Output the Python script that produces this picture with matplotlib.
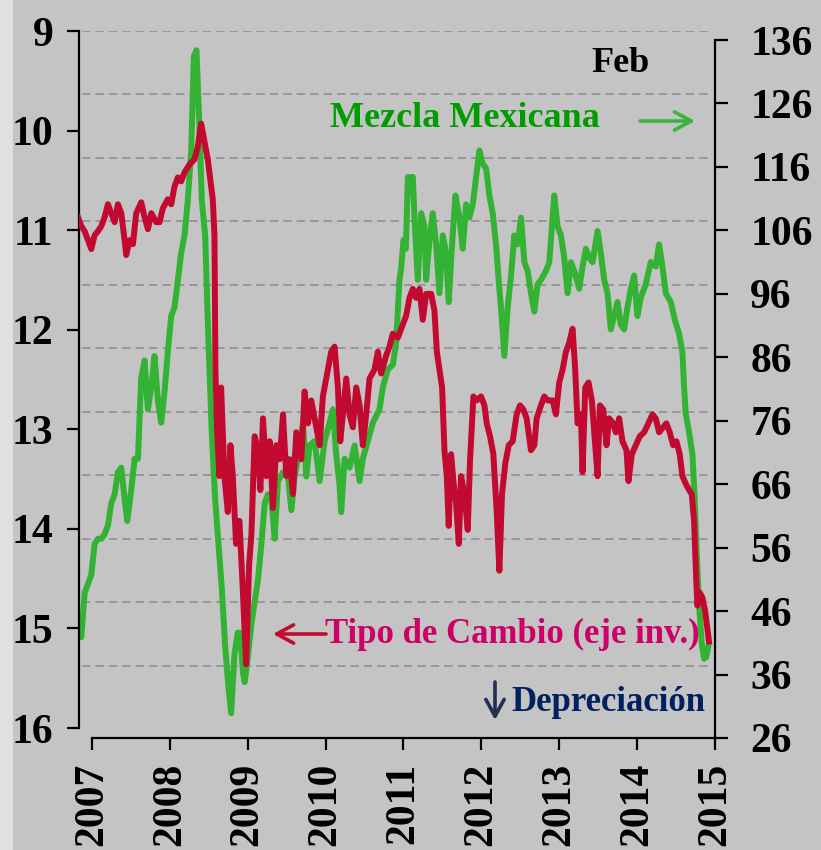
from __future__ import annotations

import matplotlib

matplotlib.use("Agg")
import matplotlib.pyplot as plt
import numpy as np
from matplotlib.patches import Rectangle

OUT_PATH = "out.png"

# Mezcla Mexicana (USD/barril), eje derecho
mezcla_t = [
    2006.842, 2006.863, 2006.906, 2006.949, 2006.991, 2007.034, 2007.077, 2007.120,
    2007.162, 2007.205, 2007.248, 2007.291, 2007.333, 2007.376, 2007.419, 2007.453,
    2007.504, 2007.547, 2007.590, 2007.611, 2007.632, 2007.675, 2007.718, 2007.761,
    2007.803, 2007.846, 2007.889, 2007.932, 2007.974, 2008.017, 2008.060, 2008.103,
    2008.145, 2008.188, 2008.231, 2008.274, 2008.308, 2008.342, 2008.380, 2008.410,
    2008.453, 2008.496, 2008.538, 2008.581, 2008.624, 2008.667, 2008.710, 2008.752,
    2008.787, 2008.829, 2008.872, 2008.900, 2008.940, 2008.961, 2009.004, 2009.047,
    2009.089, 2009.132, 2009.175, 2009.218, 2009.260, 2009.303, 2009.346, 2009.388,
    2009.453, 2009.517, 2009.560, 2009.602, 2009.666, 2009.709, 2009.752, 2009.794,
    2009.858, 2009.923, 2009.987, 2010.051, 2010.094, 2010.136, 2010.179, 2010.200,
    2010.243, 2010.307, 2010.372, 2010.436, 2010.478, 2010.542, 2010.607, 2010.692,
    2010.735, 2010.799, 2010.863, 2010.906, 2010.948, 2010.970, 2011.000, 2011.030,
    2011.056, 2011.077, 2011.120, 2011.141, 2011.184, 2011.227, 2011.269, 2011.291,
    2011.334, 2011.376, 2011.419, 2011.462, 2011.505, 2011.547, 2011.581, 2011.624,
    2011.667, 2011.718, 2011.761, 2011.804, 2011.846, 2011.889, 2011.940, 2011.975,
    2012.017, 2012.060, 2012.103, 2012.146, 2012.188, 2012.231, 2012.252, 2012.295,
    2012.338, 2012.381, 2012.423, 2012.466, 2012.509, 2012.552, 2012.594, 2012.637,
    2012.680, 2012.722, 2012.765, 2012.829, 2012.872, 2012.936, 2012.979, 2013.022,
    2013.064, 2013.107, 2013.150, 2013.193, 2013.257, 2013.299, 2013.342, 2013.385,
    2013.428, 2013.492, 2013.534, 2013.577, 2013.620, 2013.662, 2013.705, 2013.748,
    2013.791, 2013.833, 2013.876, 2013.919, 2013.962, 2014.004, 2014.047, 2014.111,
    2014.175, 2014.239, 2014.282, 2014.325, 2014.368, 2014.432, 2014.487, 2014.539,
    2014.581, 2014.603, 2014.624, 2014.667, 2014.710, 2014.740, 2014.765, 2014.795,
    2014.829, 2014.859, 2014.889, 2014.915,
]
mezcla_usd = [
    44.0, 41.9, 48.9, 50.3, 51.7, 56.6, 57.4, 57.4,
    58.1, 59.5, 63.0, 64.4, 67.9, 68.6, 63.7, 60.2,
    65.1, 70.0, 70.0, 76.4, 82.7, 85.5, 77.8, 81.3,
    86.2, 79.2, 75.7, 80.6, 86.9, 92.5, 93.9, 98.2,
    102.4, 105.2, 110.8, 118.6, 133.4, 134.4, 122.1, 110.8,
    105.2, 88.3, 74.2, 63.7, 56.6, 49.6, 40.5, 34.1,
    29.9, 39.1, 42.6, 42.6, 36.2, 34.8, 39.1, 44.0,
    47.5, 51.0, 56.6, 63.0, 64.4, 63.7, 57.4, 66.5,
    67.9, 67.2, 61.9, 67.2, 71.4, 75.7, 67.2, 72.1,
    72.8, 66.5, 72.8, 75.7, 77.8, 70.7, 65.8, 61.6,
    70.0, 68.6, 72.1, 66.5, 70.0, 72.8, 75.7, 77.8,
    81.3, 84.1, 84.8, 88.3, 98.2, 100.0, 104.5, 103.1,
    114.4, 114.4, 114.4, 108.0, 98.2, 108.7, 106.6, 98.2,
    104.5, 108.7, 103.8, 96.1, 105.2, 102.4, 94.7, 103.8,
    111.5, 108.0, 103.1, 110.1, 108.0, 110.1, 115.1, 118.6,
    116.5, 115.8, 111.5, 108.7, 103.8, 96.8, 93.9, 86.2,
    93.9, 98.9, 105.2, 103.8, 108.0, 101.0, 99.6, 96.1,
    93.2, 97.5, 98.2, 99.6, 101.0, 111.5, 106.6, 105.2,
    101.7, 96.1, 101.0, 99.6, 96.8, 100.3, 103.1, 101.7,
    101.0, 105.9, 102.4, 98.2, 96.1, 90.4, 92.5, 94.7,
    91.1, 90.4, 93.9, 96.8, 98.9, 92.5, 95.4, 97.5,
    101.0, 100.3, 103.8, 100.3, 96.1, 94.7, 91.8, 89.7,
    86.9, 81.3, 77.1, 74.2, 70.7, 63.7, 55.0, 47.0,
    41.0, 38.5, 38.8, 40.5,
]

# Tipo de cambio (pesos por dolar), eje izquierdo invertido
tc_t = [
    2006.821, 2006.863, 2006.906, 2006.949, 2006.991, 2007.034, 2007.077, 2007.120,
    2007.162, 2007.205, 2007.248, 2007.291, 2007.333, 2007.376, 2007.419, 2007.440,
    2007.483, 2007.526, 2007.568, 2007.632, 2007.675, 2007.718, 2007.761, 2007.825,
    2007.868, 2007.910, 2007.974, 2008.017, 2008.060, 2008.103, 2008.145, 2008.188,
    2008.252, 2008.316, 2008.359, 2008.402, 2008.444, 2008.487, 2008.530, 2008.551,
    2008.573, 2008.585, 2008.607, 2008.637, 2008.658, 2008.701, 2008.744, 2008.778,
    2008.808, 2008.850, 2008.893, 2008.936, 2008.979, 2009.017, 2009.047, 2009.089,
    2009.132, 2009.162, 2009.196, 2009.239, 2009.282, 2009.324, 2009.367, 2009.410,
    2009.453, 2009.495, 2009.538, 2009.581, 2009.624, 2009.688, 2009.730, 2009.773,
    2009.816, 2009.859, 2009.923, 2009.965, 2010.029, 2010.072, 2010.115, 2010.158,
    2010.188, 2010.222, 2010.265, 2010.307, 2010.350, 2010.393, 2010.436, 2010.478,
    2010.521, 2010.564, 2010.628, 2010.671, 2010.713, 2010.777, 2010.820, 2010.863,
    2010.927, 2010.991, 2011.034, 2011.077, 2011.120, 2011.163, 2011.205, 2011.248,
    2011.291, 2011.355, 2011.398, 2011.428, 2011.462, 2011.496, 2011.526, 2011.556,
    2011.581, 2011.611, 2011.641, 2011.675, 2011.710, 2011.740, 2011.782, 2011.825,
    2011.855, 2011.898, 2011.940, 2011.996, 2012.039, 2012.069, 2012.111, 2012.154,
    2012.197, 2012.231, 2012.265, 2012.308, 2012.351, 2012.402, 2012.453, 2012.496,
    2012.539, 2012.581, 2012.637, 2012.680, 2012.710, 2012.765, 2012.808, 2012.851,
    2012.915, 2012.957, 2013.000, 2013.043, 2013.086, 2013.128, 2013.171, 2013.205,
    2013.235, 2013.278, 2013.299, 2013.334, 2013.376, 2013.419, 2013.449, 2013.492,
    2013.522, 2013.564, 2013.607, 2013.641, 2013.692, 2013.727, 2013.769, 2013.812,
    2013.863, 2013.889, 2013.932, 2013.983, 2014.034, 2014.090, 2014.145, 2014.197,
    2014.239, 2014.282, 2014.333, 2014.376, 2014.419, 2014.462, 2014.504, 2014.547,
    2014.581, 2014.633, 2014.667, 2014.701, 2014.731, 2014.752, 2014.773, 2014.803,
    2014.838, 2014.872, 2014.902, 2014.923,
]
tc_mxn = [
    10.87, 10.96, 11.01, 11.10, 11.19, 11.05, 11.01, 10.96,
    10.87, 10.74, 10.83, 10.92, 10.74, 10.83, 11.10, 11.25,
    11.10, 11.14, 10.83, 10.72, 10.87, 10.99, 10.83, 10.92,
    10.92, 10.78, 10.69, 10.74, 10.56, 10.47, 10.51, 10.42,
    10.34, 10.29, 10.16, 9.93, 10.11, 10.29, 10.56, 10.69,
    11.05, 12.40, 13.03, 13.47, 12.58, 13.47, 13.83, 13.16,
    13.47, 14.15, 13.92, 14.60, 15.36, 14.37, 14.06, 13.07,
    13.21, 13.61, 12.89, 13.47, 13.12, 13.79, 13.16, 13.30,
    12.85, 13.47, 13.30, 13.65, 13.03, 13.30, 12.62, 12.94,
    12.71, 12.89, 13.16, 12.67, 12.40, 12.22, 12.17, 12.58,
    13.12, 12.85, 12.49, 12.85, 12.98, 12.58, 12.76, 13.16,
    12.85, 12.49, 12.40, 12.22, 12.44, 12.26, 12.17, 12.04,
    12.08, 11.95, 11.86, 11.68, 11.59, 11.68, 11.59, 11.90,
    11.64, 11.64, 11.81, 12.22, 12.40, 12.58, 13.21, 13.47,
    13.97, 13.25, 13.52, 13.74, 14.15, 13.47, 13.65, 14.01,
    13.30, 12.67, 12.71, 12.67, 12.76, 12.94, 13.07, 13.25,
    13.83, 14.42, 13.65, 13.34, 13.16, 13.12, 12.85, 12.76,
    12.80, 12.89, 13.21, 13.16, 12.89, 12.76, 12.67, 12.71,
    12.71, 12.85, 12.53, 12.40, 12.22, 12.13, 11.99, 12.40,
    12.94, 12.85, 13.43, 12.58, 12.53, 12.71, 13.03, 13.47,
    12.76, 12.80, 13.16, 12.89, 12.94, 13.03, 12.89, 13.12,
    13.21, 13.52, 13.25, 13.16, 13.07, 13.03, 12.94, 12.85,
    12.89, 13.03, 12.98, 12.94, 13.03, 13.16, 13.12, 13.25,
    13.47, 13.56, 13.61, 13.65, 13.92, 14.37, 14.77, 14.64,
    14.69, 14.82, 15.00, 15.13,
]

year_ticks = [2007, 2008, 2009, 2010, 2011, 2012, 2013, 2014, 2015]
tc_ticks = [9, 10, 11, 12, 13, 14, 15, 16]
mezcla_ticks = [26, 36, 46, 56, 66, 76, 86, 96, 106, 116, 126, 136]

BG = "#c4c4c4"
GREEN = "#33b233"
RED = "#c20a30"
FONT = "Liberation Serif"

W, H = 821, 850


def fig_xy(px: float, py: float) -> tuple[float, float]:
    # pixel position (top-left origin) -> figure fraction
    return px / W, 1 - py / H


def main() -> None:
    plt.rcParams["font.family"] = [FONT, "DejaVu Serif"]
    plt.rcParams["font.weight"] = "bold"

    fig = plt.figure(figsize=(W / 100, H / 100), dpi=100, facecolor=BG)
    fig.patches.append(Rectangle((0, 0), 13 / W, 1, transform=fig.transFigure,
                                 facecolor="#e0e0e0", edgecolor="none", zorder=0))

    left, right = 79 / W, 715 / W
    bottom, top = 1 - 738 / H, 1 - 31 / H
    ax = fig.add_axes([left, bottom, right - left, top - bottom])
    ax2 = ax.twinx()
    ax2.set_facecolor(BG)

    # red series lives on the left axis but must be drawn above the green one
    ax.set_zorder(ax2.get_zorder() + 1)
    ax.patch.set_visible(False)

    ax.set_xlim(2006.8333, 2015)
    ax.set_ylim(16.1, 9)
    ax2.set_ylim(26, 137.42)

    # dashed grid lines, spaced like the right axis
    for lvl in np.arange(137.42, 30, -10):
        ax2.axhline(lvl, xmin=0.004, xmax=0.994, color="#979797", lw=1.4,
                    ls=(0, (4.3, 2.6)), zorder=1)

    ax2.plot(mezcla_t, mezcla_usd, color=GREEN, lw=4.3, zorder=3)
    ax.plot(tc_t, tc_mxn, color=RED, lw=4.3, zorder=4)

    for a in (ax, ax2):
        a.spines["top"].set_visible(False)
    ax.spines["right"].set_visible(False)
    ax2.spines["left"].set_visible(False)
    ax2.spines["bottom"].set_visible(False)

    ax.spines["left"].set_bounds(9, 16)
    ax.spines["bottom"].set_bounds(2007, 2015)
    ax2.spines["right"].set_bounds(26, 136)
    for a, s in ((ax, "left"), (ax, "bottom"), (ax2, "right")):
        a.spines[s].set_linewidth(1.6)
        a.spines[s].set_color("black")

    tick_font = dict(fontsize=30, fontweight="bold", family=FONT)
    ax.set_yticks(tc_ticks)
    ax.set_yticklabels([str(v) for v in tc_ticks], **tick_font)
    ax.set_xticks(year_ticks)
    ax.set_xticklabels([str(v) for v in year_ticks], rotation=90, **tick_font)
    ax2.set_yticks(mezcla_ticks)
    ax2.set_yticklabels([str(v) for v in mezcla_ticks], **tick_font)

    ax.tick_params(axis="y", direction="out", length=8.6, width=1.6, pad=10)
    ax.tick_params(axis="x", direction="out", length=8.6, width=1.6, pad=9)
    ax2.tick_params(axis="y", direction="out", length=9.3, width=1.6, pad=16)

    # annotations
    fig.text(*fig_xy(330, 127), "Mezcla Mexicana", color="#009c00", fontsize=26,
             fontweight="bold", ha="left", va="baseline")
    fig.text(*fig_xy(591, 72), "Feb", color="black", fontsize=26,
             fontweight="bold", ha="left", va="baseline")
    fig.text(*fig_xy(325, 643), "Tipo de Cambio (eje inv.)", color="#cc0066",
             fontsize=25, fontweight="bold", ha="left", va="baseline")
    fig.text(*fig_xy(511, 711), "Depreciación", color="#00205f", fontsize=25,
             fontweight="bold", ha="left", va="baseline")

    arrow = dict(arrowstyle="->,head_length=0.55,head_width=0.3", lw=2.6,
                 shrinkA=0, shrinkB=0)
    ax.annotate("", xy=fig_xy(695, 121), xytext=fig_xy(640, 121),
                xycoords="figure fraction", textcoords="figure fraction",
                arrowprops=dict(arrow, color="#3cb43c", mutation_scale=22))
    ax.annotate("", xy=fig_xy(273, 634), xytext=fig_xy(326, 634),
                xycoords="figure fraction", textcoords="figure fraction",
                arrowprops=dict(arrow, color=RED, mutation_scale=22))
    ax.annotate("", xy=fig_xy(495, 720), xytext=fig_xy(495, 682),
                xycoords="figure fraction", textcoords="figure fraction",
                arrowprops=dict(arrow, color="#1f3050", mutation_scale=22))

    fig.savefig(OUT_PATH, dpi=100, facecolor=BG)
    plt.close(fig)


if __name__ == "__main__":
    main()
